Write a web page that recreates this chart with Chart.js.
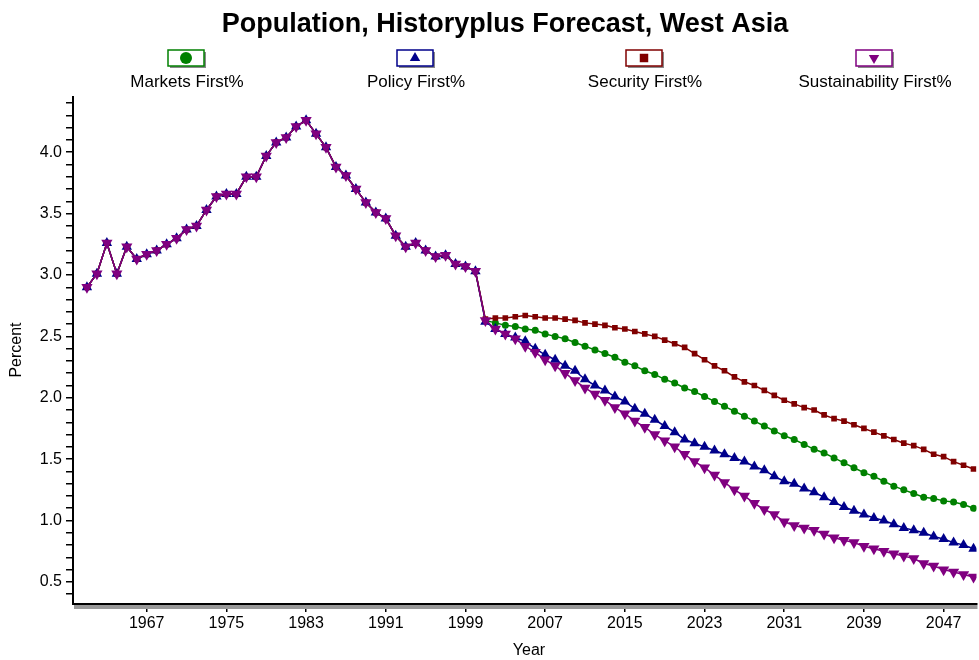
<!DOCTYPE html>
<html><head><meta charset="utf-8">
<script src="https://cdn.jsdelivr.net/npm/chart.js@4"></script>
<style>body{margin:0;background:#fff}#w{width:983px;height:660px}</style>
</head><body><div id="w"><canvas id="c"></canvas></div>
<script>
const title = 'Population, Historyplus Forecast, West Asia';
const seriesNames = ['Markets First%', 'Policy First%', 'Security First%', 'Sustainability First%'];
const histYears = [1961,1962,1963,1964,1965,1966,1967,1968,1969,1970,1971,1972,1973,1974,1975,1976,1977,1978,1979,1980,1981,1982,1983,1984,1985,1986,1987,1988,1989,1990,1991,1992,1993,1994,1995,1996,1997,1998,1999,2000];
const history = [2.90,3.01,3.26,3.01,3.23,3.13,3.17,3.20,3.25,3.30,3.37,3.40,3.53,3.64,3.66,3.66,3.80,3.80,3.97,4.08,4.12,4.21,4.26,4.15,4.04,3.88,3.81,3.70,3.59,3.51,3.46,3.32,3.23,3.26,3.20,3.15,3.16,3.09,3.07,3.03];
const foreYears = [2001,2002,2003,2004,2005,2006,2007,2008,2009,2010,2011,2012,2013,2014,2015,2016,2017,2018,2019,2020,2021,2022,2023,2024,2025,2026,2027,2028,2029,2030,2031,2032,2033,2034,2035,2036,2037,2038,2039,2040,2041,2042,2043,2044,2045,2046,2047,2048,2049,2050];
const marketsFirst = [2.63,2.61,2.59,2.58,2.56,2.55,2.52,2.50,2.48,2.45,2.42,2.39,2.36,2.33,2.29,2.26,2.22,2.19,2.15,2.12,2.08,2.05,2.01,1.97,1.93,1.89,1.85,1.81,1.77,1.73,1.69,1.66,1.62,1.58,1.55,1.51,1.47,1.43,1.39,1.36,1.32,1.28,1.25,1.22,1.19,1.18,1.16,1.15,1.13,1.10];
const policyFirst = [2.62,2.56,2.52,2.49,2.46,2.40,2.35,2.31,2.26,2.22,2.15,2.10,2.06,2.01,1.97,1.91,1.87,1.82,1.77,1.72,1.66,1.63,1.60,1.57,1.54,1.51,1.48,1.44,1.41,1.36,1.32,1.30,1.26,1.23,1.19,1.15,1.11,1.08,1.05,1.02,1.00,0.97,0.94,0.92,0.90,0.87,0.85,0.82,0.80,0.77];
const securityFirst = [2.64,2.65,2.65,2.66,2.67,2.66,2.65,2.65,2.64,2.63,2.61,2.60,2.59,2.57,2.56,2.54,2.52,2.50,2.47,2.44,2.41,2.36,2.31,2.26,2.22,2.17,2.13,2.10,2.06,2.02,1.98,1.95,1.92,1.90,1.86,1.83,1.81,1.78,1.75,1.72,1.69,1.66,1.63,1.61,1.58,1.54,1.52,1.48,1.45,1.42];
const sustainabilityFirst = [2.63,2.56,2.52,2.48,2.42,2.37,2.31,2.26,2.20,2.14,2.08,2.03,1.98,1.92,1.87,1.81,1.76,1.70,1.65,1.60,1.54,1.48,1.43,1.37,1.31,1.25,1.20,1.14,1.09,1.05,0.99,0.96,0.94,0.92,0.89,0.86,0.84,0.82,0.79,0.77,0.75,0.73,0.71,0.69,0.65,0.63,0.60,0.58,0.56,0.54];
const xTickLabels = [1967,1975,1983,1991,1999,2007,2015,2023,2031,2039,2047];

const colors = ['#008000','#00008B','#800000','#800080'];
const styles = ['circle','triangle','rect','triangle'];
const rots = [0,0,0,180];
const radii = [3.5,6,4,6.5];
const fore = [marketsFirst, policyFirst, securityFirst, sustainabilityFirst];
const years = histYears.concat(foreYears);

const datasets = fore.map((f,i)=>({
  label: seriesNames[i],
  order: 3-i,
  data: years.map((y,j)=>({x:y, y: j<history.length ? history[j] : f[j-history.length]})),
  borderColor: colors[i], backgroundColor: colors[i], borderWidth: 1.5,
  pointStyle: styles[i], rotation: rots[i], pointRadius: radii[i], pointBorderWidth: 0,
  pointBackgroundColor: colors[i], tension: 0
}));

const deco = {
  id:'deco',
  afterDraw(chart){
    const ctx = chart.ctx, a = chart.chartArea;
    ctx.save();
    ctx.fillStyle = '#000'; ctx.textAlign='center'; ctx.textBaseline='middle';
    ctx.font = 'bold 27px "Liberation Sans", Arial';
    ctx.fillText(title, 505, 25);
    ctx.font = '16px "Liberation Sans", Arial';
    ctx.fillText('Year', 529, 651);
    ctx.save(); ctx.translate(17, 350); ctx.rotate(-Math.PI/2); ctx.fillText('Percent', 0, 0); ctx.restore();
    ctx.fillStyle = '#999';
    ctx.fillRect(a.left+1, a.bottom+1, a.right-a.left, 4);
    const cx = [187, 416, 645, 875];
    seriesNames.forEach((n,i)=>{
      const x = cx[i], y = 58;
      ctx.fillStyle = '#888'; ctx.fillRect(x-17, y-6, 36, 16);
      ctx.fillStyle = '#fff'; ctx.strokeStyle = colors[i]; ctx.lineWidth = 1.5;
      ctx.fillRect(x-19, y-8, 36, 16); ctx.strokeRect(x-19, y-8, 36, 16);
      ctx.fillStyle = colors[i]; ctx.strokeStyle = colors[i];
      Chart.helpers.drawPoint(ctx, {pointStyle: styles[i], rotation: rots[i], radius: 6, borderWidth: 0}, x-1, y);
      ctx.fillStyle = '#000'; ctx.font = '17px "Liberation Sans", Arial';
      ctx.fillText(n, x, 82);
    });
    ctx.restore();
  }
};

new Chart(document.getElementById('c'), {
  type:'line',
  data:{datasets},
  options:{
    responsive:true, maintainAspectRatio:false, animation:false,
    layout:{padding:{top:97, right:0, left:0, bottom:0}},
    plugins:{legend:{display:false}, tooltip:{enabled:false}},
    scales:{
      x:{type:'linear', min:1959.6, max:2050.3,
        afterBuildTicks:s=>{s.ticks = xTickLabels.map(v=>({value:v}));},
        afterFit:s=>{s.height=56;},
        grid:{drawOnChartArea:false, tickLength:8, color:'#000', lineWidth:1.5},
        border:{color:'#000', width:2},
        ticks:{color:'#000', font:{size:16, family:'"Liberation Sans", Arial'}, maxRotation:0, autoSkip:false, padding:2, callback:v=>String(v)}
      },
      y:{min:0.32, max:4.45,
        afterFit:s=>{s.width=73;},
        grid:{drawOnChartArea:false, tickLength:7, color:'#000', lineWidth:1.5},
        border:{color:'#000', width:2},
        ticks:{stepSize:0.1, includeBounds:false, autoSkip:false, color:'#000', font:{size:16, family:'"Liberation Sans", Arial'}, padding:4,
          callback:v=>{const r=Math.round(v*10); return r%5===0 ? (r/10).toFixed(1) : '';}}
      }
    }
  },
  plugins:[deco]
});
</script></body></html>
